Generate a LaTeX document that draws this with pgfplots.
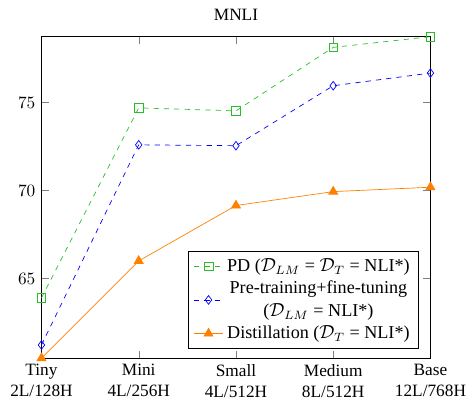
\documentclass[border=0pt]{standalone}
\usepackage{pgfplots}
\pgfplotsset{compat=1.18}
\usepackage{fontspec}
\setmainfont{Liberation Serif}
\definecolor{pdgreen}{RGB}{40,190,40}
\definecolor{ptblue}{RGB}{0,0,255}
\definecolor{kdorange}{RGB}{255,128,0}
\begin{document}
\begin{tikzpicture}
\begin{axis}[
	scale only axis,
	width=225pt, height=186pt,
	title={MNLI},
	xmin=0, xmax=4,
	ymin=60.47, ymax=78.75,
	xtick={0,1,2,3,4},
	xticklabels={Tiny\\2L/128H, Mini\\4L/256H, Small\\4L/512H, Medium\\8L/512H, Base\\12L/768H},
	xticklabel style={align=center},
	ytick={65,70,75},
	legend pos=south east,
	legend cell align=center,
	legend style={font=\fontsize{10.5}{13}\selectfont, cells={align=center}},
]
\addplot[pdgreen, dashed, mark=square, mark size=2.5pt, mark options={solid}]
	coordinates {(0,63.9) (1,74.7) (2,74.53) (3,78.14) (4,78.75)};
\addplot[ptblue, dashed, mark=diamond, mark size=2.5pt, mark options={solid}]
	coordinates {(0,61.22) (1,72.6) (2,72.55) (3,75.96) (4,76.68)};
\addplot[kdorange, mark=triangle*, mark size=3pt]
	coordinates {(0,60.47) (1,66.0) (2,69.15) (3,69.94) (4,70.19)};
\legend{PD ($\mathcal{D}_{LM}$ = $\mathcal{D}_T$ = NLI*),
	Pre-training+fine-tuning\\($\mathcal{D}_{LM}$ = NLI*),
	Distillation ($\mathcal{D}_T$ = NLI*)}
\end{axis}
\pgfresetboundingbox
\path[use as bounding box] ([shift={(-24pt,-25.9pt)}]current axis.south west) rectangle ([shift={(22.3pt,21.2pt)}]current axis.north east);
\end{tikzpicture}
\end{document}
